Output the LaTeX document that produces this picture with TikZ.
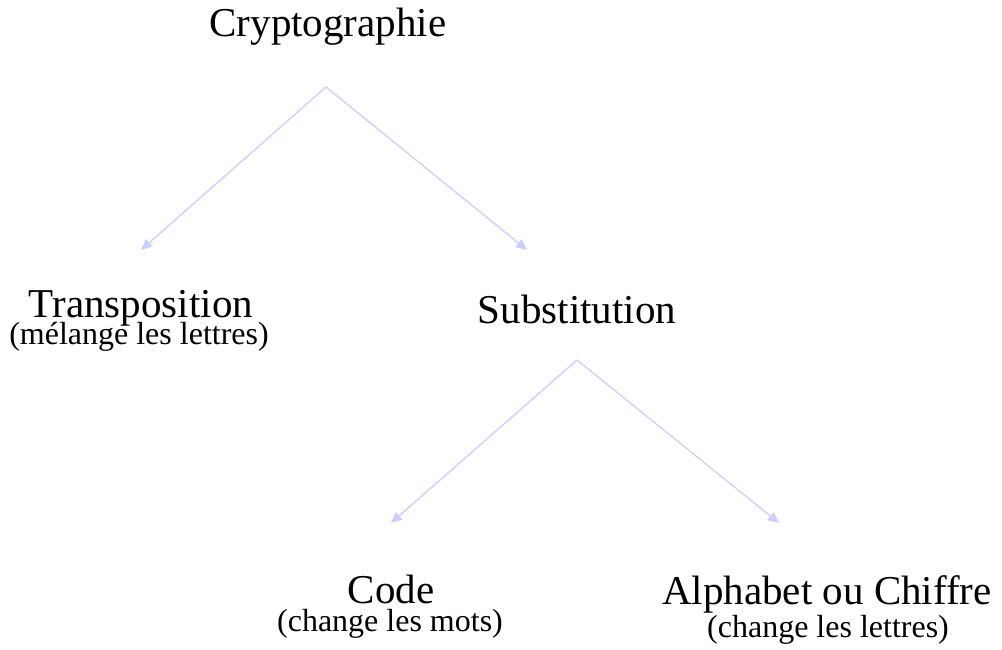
\documentclass[tikz,border=0pt]{standalone}
\usepackage{fontspec}
\setmainfont{Liberation Serif}
\usepackage{tikz}
\usetikzlibrary{arrows.meta,positioning,calc}
\definecolor{linklilac}{RGB}{205,205,255}

\begin{document}
\begin{tikzpicture}[
    x=1pt, y=-1pt,
    title/.style={inner sep=0pt, anchor=base, font=\fontsize{41}{49}\selectfont},
    note/.style={inner sep=0pt, anchor=base, font=\fontsize{32}{38}\selectfont},
    link/.style={draw=linklilac, line width=1.3pt, -{Triangle[length=11pt,width=10pt]}}
]
    \useasboundingbox (0,0) rectangle (1002,650);

    % Root
    \node[title] (crypto) at (328,37) {Cryptographie};

    % First level
    \node[title] (trans) at (141,317) {Transposition};
    \node[note] (transsub) at (139,344) {(mélange les lettres)};
    \node[title] (subst) at (577,323) {Substitution};

    % Second level
    \node[title] (code) at (391,603) {Code};
    \node[note] (codesub) at (390,631) {(change les mots)};
    \node[title] (alpha) at (827,604) {Alphabet ou Chiffre};
    \node[note] (alphasub) at (828,637) {(change les lettres)};

    % Fork points and arrow ends
    \coordinate (cryptofork) at (326,87);
    \coordinate (transin) at (141,250);
    \coordinate (substin) at (527,250);
    \coordinate (substfork) at (577,360);
    \coordinate (codein) at (391,523);
    \coordinate (alphain) at (779,523);

    % Arrows
    \draw[link] (cryptofork) -- (transin);
    \draw[link] (cryptofork) -- (substin);
    \draw[link] (substfork) -- (codein);
    \draw[link] (substfork) -- (alphain);
\end{tikzpicture}
\end{document}
